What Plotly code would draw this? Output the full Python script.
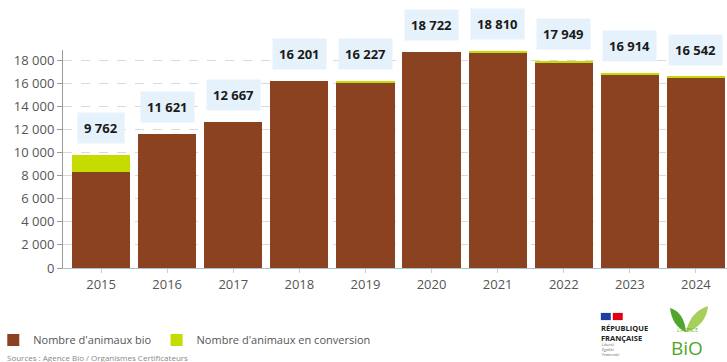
import plotly.graph_objects as go

years = ["2015", "2016", "2017", "2018", "2019", "2020", "2021", "2022", "2023", "2024"]
animaux_bio = [8340, 11621, 12667, 16201, 16050, 18722, 18650, 17800, 16790, 16480]
animaux_conversion = [1422, 0, 0, 0, 177, 0, 160, 149, 124, 62]
totaux = [9762, 11621, 12667, 16201, 16227, 18722, 18810, 17949, 16914, 16542]

BROWN = "#8B4220"
LIME = "#C5DC00"
FONT = "Open Sans, DejaVu Sans, sans-serif"


def fr(n):
    return f"{n:,}".replace(",", " ")


fig = go.Figure()
fig.add_trace(go.Bar(x=years, y=animaux_bio, name="Nombre d'animaux bio",
                     marker=dict(color=BROWN, line=dict(width=0))))
fig.add_trace(go.Bar(x=years, y=animaux_conversion, name="Nombre d'animaux en conversion",
                     marker=dict(color=LIME, line=dict(width=0))))

for i, t in enumerate(totaux):
    fig.add_annotation(x=i, y=t, text=f"<b>{fr(t)}</b>", showarrow=False,
                       yanchor="middle", yshift=27,
                       font=dict(family=FONT, size=13, color="#1a1a1a"),
                       bgcolor="#E6F2FB", borderpad=6)

# source line
fig.add_annotation(xref="paper", yref="paper", x=-0.088, y=-0.375, xanchor="left", yanchor="top",
                   text="Sources : Agence Bio / Organismes Certificateurs", showarrow=False,
                   font=dict(family=FONT, size=8, color="#888"))

# logos (approximated)
fig.add_shape(type="rect", xref="paper", yref="paper", x0=0.810, x1=0.825, y0=-0.206, y1=-0.239,
              fillcolor="#1F3FA0", line=dict(width=0))
fig.add_shape(type="rect", xref="paper", yref="paper", x0=0.828, x1=0.843, y0=-0.206, y1=-0.239,
              fillcolor="#E1000F", line=dict(width=0))
fig.add_annotation(xref="paper", yref="paper", x=0.807, y=-0.245, xanchor="left", yanchor="top",
                   text="<b>RÉPUBLIQUE<br>FRANÇAISE</b>", showarrow=False, align="left",
                   font=dict(family=FONT, size=7.5, color="#222"))
fig.add_annotation(xref="paper", yref="paper", x=0.809, y=-0.33, xanchor="left", yanchor="top",
                   text="<i>Liberté<br>Égalité<br>Fraternité</i>", showarrow=False, align="left",
                   font=dict(family=FONT, size=4, color="#666"))
fig.add_shape(type="path", xref="paper", yref="paper",
              path="M 0.9142 -0.1835 Q 0.9172 -0.266 0.9383 -0.2936 Q 0.9352 -0.2018 0.9142 -0.1835 Z",
              fillcolor="#4FA62A", line=dict(width=0))
fig.add_shape(type="path", xref="paper", yref="paper",
              path="M 0.9383 -0.2936 Q 0.9443 -0.2018 0.9714 -0.1743 Q 0.9684 -0.266 0.9383 -0.2936 Z",
              fillcolor="#A6D05A", line=dict(width=0))
fig.add_annotation(xref="paper", yref="paper", x=0.94, y=-0.262, xanchor="center", yanchor="top",
                   text="L'AGENCE", showarrow=False,
                   font=dict(family=FONT, size=4.5, color="#5DAE2B"))
fig.add_annotation(xref="paper", yref="paper", x=0.94, y=-0.369, xanchor="center", yanchor="middle",
                   text="BiO", showarrow=False,
                   font=dict(family=FONT, size=19, color="#4FA62A"))

fig.update_layout(
    width=727, height=362,
    margin=dict(l=63, r=0, t=50, b=94, autoexpand=False),
    barmode="stack", bargap=0.12,
    paper_bgcolor="white", plot_bgcolor="white",
    separators=", ",
    font=dict(family=FONT, color="#555"),
    showlegend=True,
    legend=dict(orientation="h", x=-0.105, y=-0.33, xanchor="left", yanchor="middle",
                font=dict(family=FONT, size=11, color="#555"), itemwidth=30,
                traceorder="normal"),
    xaxis=dict(type="category", range=[-0.576, 9.47], showgrid=False, automargin=False,
               showline=True, linecolor="#A8BFCF", linewidth=1,
               ticks="outside", ticklen=4, tickcolor="#ccc",
               tickfont=dict(family=FONT, size=13, color="#555")),
    yaxis=dict(range=[0, 18870], tickvals=list(range(0, 18001, 2000)), tickformat=",d",
               showgrid=True, gridcolor="#D9D9D9", griddash="dash", gridwidth=1,
               showline=True, linecolor="#999", linewidth=1, automargin=False,
               ticks="outside", ticklen=5, tickcolor="#999",
               tickfont=dict(family=FONT, size=13, color="#555"), zeroline=False),
)

fig.write_html("out.html", config={"displayModeBar": False},
               post_script="document.body.style.margin='0';document.body.style.overflow='hidden';")
